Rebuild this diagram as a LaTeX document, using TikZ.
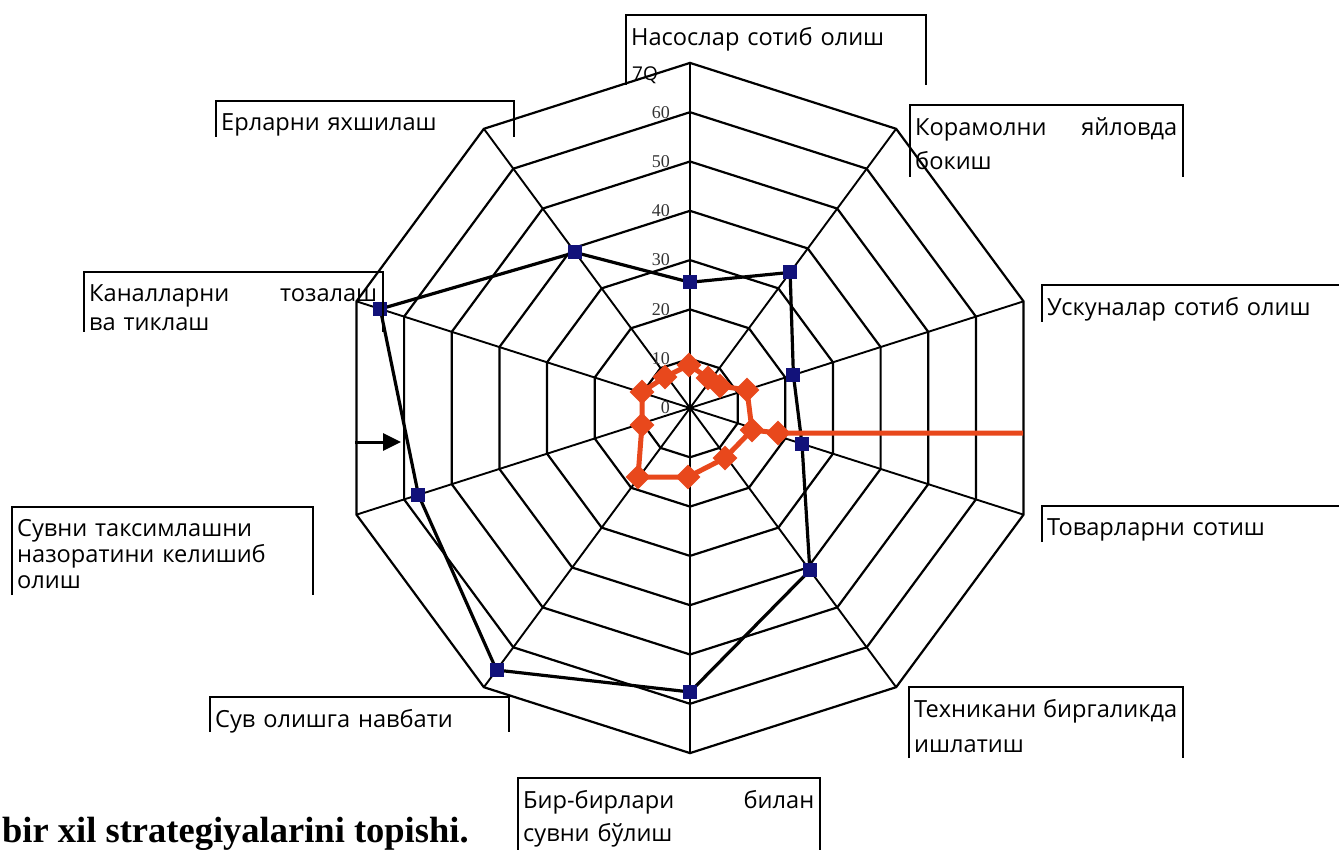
\documentclass[tikz,border=0pt]{standalone}
\usepackage{fontspec}
\usepackage{xcolor}
\usetikzlibrary{arrows.meta,shapes.geometric}
\newfontfamily\labelfont{Open Sans}
\newfontfamily\tickfont{Liberation Serif}
\definecolor{marknavy}{HTML}{12127A}
\definecolor{diamondred}{HTML}{E8481C}

\begin{document}
\begin{tikzpicture}[x=1pt,y=-1pt,
  frame/.style={line width=2.2pt},
  lbl/.style={anchor=north west,inner sep=0pt,align=left,font=\fontsize{23.6}{29}\labelfont},
  ring/.style={line width=2.2pt,line join=miter},
  spoke/.style={line width=1.9pt},
  ticklbl/.style={anchor=east,inner sep=0pt,xshift=-20pt,text=black!80,font=\fontsize{18}{18}\tickfont},
  sqmark/.style={fill=marknavy,minimum size=14pt,inner sep=0pt},
  dmark/.style={diamond,fill=diamondred,minimum width=25pt,minimum height=25pt,inner sep=0pt},
  blkline/.style={line width=3.2pt,line join=round},
  redline/.style={diamondred,line width=5pt,line join=round}]
  \useasboundingbox (0,0) rectangle (1339,850);
  \fill[white] (0,0) rectangle (1339,850);
  \clip (0,0) rectangle (1339,850);
  \begin{scope}[shift={(690,408)},x=5.01pt,y=4.93pt]
    \foreach \r in {10,20,...,70}
      \draw[ring] (90:\r) \foreach \a in {126,162,...,414} {-- (\a:\r)} -- cycle;
    \foreach \a in {90,126,...,414}
      \draw[spoke] (0,0) -- (\a:70);
    \foreach \r in {0,10,...,60}
      \node[ticklbl] (tick\r) at (90:\r) {\r};
    \foreach \a/\v [count=\i] in {90/25.5,54/34,18/21.7,-18/23.5,-54/40.7,-90/57.6,-126/65.7,-162/57,162/65,126/39}
      \coordinate (b\i) at (\a:\v);
    \draw[blkline] (b1) \foreach \i in {2,...,10} {-- (b\i)} -- cycle;
    \foreach \i in {1,...,10}
      \node[sqmark] (bm\i) at (b\i) {};
  \end{scope}
  \node[anchor=west,inner sep=0pt,font=\fontsize{19}{19}\labelfont] (tick70) at (632,75) {7Q};
  \foreach \px/\py [count=\i] in {638/477,642/425,642/392,665/377,689/365,708/378,720/386,747/390,752/430,725/458,688/477,778/433}
    \coordinate (o\i) at (\px,\py);
  \coordinate (oend) at (1023,433);
  \draw[redline] (o1) \foreach \i in {2,...,11} {-- (o\i)} -- cycle;
  \draw[redline] (o9) -- (o12) -- (oend);
  \foreach \i in {1,...,12}
    \node[dmark] (od\i) at (o\i) {};
  \coordinate (arrowtail) at (355,442);
  \coordinate (arrowtip) at (401,442);
  \draw[line width=3pt,-{Triangle[length=18pt,width=17pt]}] (arrowtail) -- (arrowtip);
  \foreach \n/\x/\y/\w/\h/\t [evaluate=\w as \tw using \w-11] in {
      nas/626/15/300/70/{Насослар сотиб олиш},
      kor/910/105/273/72/{Корамолни\hfill яйловда\\[5pt]бокиш},
      yer/216/101/298/36/{Ерларни яхшилаш},
      kan/84/272/299/60/{Каналларни\hfill тозалаш\\ва тиклаш},
      usk/1042/285/310/37/{Ускуналар сотиб олиш},
      tov/1042/506/310/36/{Товарларни сотиш},
      suvt/12/507/301/88/{Сувни таксимлашни\\[-3pt]назоратини келишиб\\[-3pt]олиш},
      suvo/210/697/299/35/{Сув олишга навбати},
      bir/518/778/302/80/{Бир-бирлари\hfill билан\\[4pt]сувни бўлиш},
      tex/909/687/274/71/{Техникани\hfill биргаликда\\[6pt]ишлатиш}} {
    \draw[frame] (\x,\y+\h) |- (\x+\w,\y) -- (\x+\w,\y+\h);
    \node[lbl,text width=\tw pt] (\n) at (\x+5,\y+12) {\t};
  }
  \node[anchor=base west,inner sep=0pt,font=\fontsize{36.5}{37}\tickfont\bfseries] (caption) at (2,842) {bir xil strategiyalarini topishi.};
\end{tikzpicture}
\end{document}
